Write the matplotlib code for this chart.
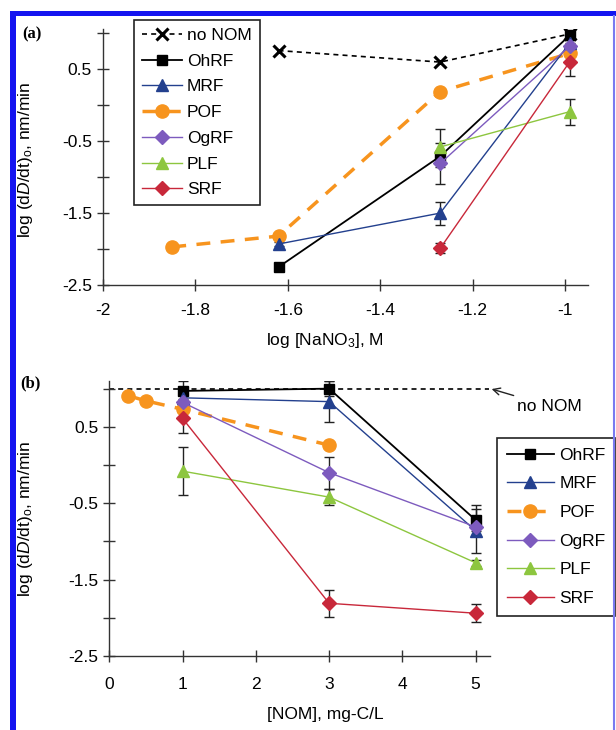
import matplotlib
matplotlib.use("Agg")
import matplotlib.pyplot as plt
from matplotlib.lines import Line2D
from matplotlib.patches import Rectangle

plt.rcParams['font.family'] = ['Liberation Sans', 'DejaVu Sans']
plt.rcParams['mathtext.fontset'] = 'custom'
plt.rcParams['mathtext.rm'] = 'Liberation Sans'
plt.rcParams['mathtext.it'] = 'Liberation Sans:italic'

# ---------------- data: panel (a) ----------------
a_nonom_x = [-1.62, -1.27, -0.99]
a_nonom_y = [0.76, 0.60, 0.99]
a_pof_x = [-1.85, -1.62, -1.27, -0.99]
a_pof_y = [-1.97, -1.82, 0.19, 0.72]
a_ohrf_x = [-1.62, -1.27, -0.99]
a_ohrf_y = [-2.25, -0.71, 0.97]
a_ohrf_e = [0.05, 0.38, 0.05]
a_mrf_x = [-1.62, -1.27, -0.99]
a_mrf_y = [-1.93, -1.50, 0.86]
a_mrf_e = [0.03, 0.16, 0.05]
a_ogrf_x = [-1.27, -0.99]
a_ogrf_y = [-0.81, 0.82]
a_ogrf_e = [0.05, 0.05]
a_plf_x = [-1.27, -0.99]
a_plf_y = [-0.58, -0.09]
a_plf_e = [0.05, 0.18]
a_srf_x = [-1.27, -0.99]
a_srf_y = [-1.99, 0.60]
a_srf_e = [0.07, 0.20]

# ---------------- data: panel (b) ----------------
b_nonom_x = [0, 5.18]
b_nonom_y = [1.0, 1.0]
b_pof_x = [0.25, 0.5, 1, 3]
b_pof_y = [0.91, 0.84, 0.73, 0.26]
b_x = [1, 3, 5]
b_ohrf_y = [0.97, 1.00, -0.72]
b_ohrf_e = [0.13, 0.10, 0.20]
b_mrf_y = [0.88, 0.83, -0.86]
b_mrf_e = [0.05, 0.27, 0.29]
b_ogrf_y = [0.82, -0.10, -0.81]
b_ogrf_e = [0.05, 0.21, 0.05]
b_plf_y = [-0.08, -0.42, -1.28]
b_plf_e = [0.31, 0.10, 0.04]
b_srf_y = [0.61, -1.81, -1.94]
b_srf_e = [0.19, 0.18, 0.12]

yticks = [-2.5, -2.0, -1.5, -1.0, -0.5, 0.0, 0.5, 1.0]
ytick_labels = ['-2.5', '', '-1.5', '', '-0.5', '', '0.5', '']
a_xticks = [-2, -1.8, -1.6, -1.4, -1.2, -1]
a_xtick_labels = ['-2', '-1.8', '-1.6', '-1.4', '-1.2', '-1']
b_xticks = [0, 1, 2, 3, 4, 5]
b_xtick_labels = ['0', '1', '2', '3', '4', '5']

C_OHRF = '#000000'
C_MRF = '#23408E'
C_POF = '#F7941E'
C_OGRF = '#7D5BBE'
C_PLF = '#8DC63F'
C_SRF = '#C8283A'

W, H = 616, 730
fig = plt.figure(figsize=(W / 100, H / 100), dpi=100)

axa = fig.add_axes([103 / W, 1 - 285 / H, 485 / W, 256 / H])
axb = fig.add_axes([109.3 / W, 1 - 656 / H, 381 / W, 275 / H])

ylabel = r'log (d$\mathit{D}$/dt)$_{\rm o}$, nm/min'
FS = 12.5
LFS = 12.5


def style(ax, xpad):
    for s in ['top', 'right']:
        ax.spines[s].set_visible(False)
    for s in ['left', 'bottom']:
        ax.spines[s].set_color('#333333')
        ax.spines[s].set_linewidth(1.0)
    ax.tick_params(direction='inout', length=8, width=1.0, color='#333333',
                   labelsize=FS)
    ax.tick_params(axis='y', pad=4)
    ax.tick_params(axis='x', pad=xpad)
    ax.set_yticks(yticks)
    ax.set_yticklabels(ytick_labels)


eb_kw = dict(fmt='none', ecolor='#222222', elinewidth=1.0, capsize=3.5, capthick=1.0, zorder=2)

# ---------------- panel (a) ----------------
style(axa, 9)
axa.plot(a_nonom_x, a_nonom_y, color='black', ls=(0, (3, 2.5)), lw=1.2, marker='x', ms=8, mew=2.2,
         label='no NOM', zorder=3)
axa.errorbar(a_ohrf_x, a_ohrf_y, yerr=a_ohrf_e, **eb_kw)
axa.errorbar(a_mrf_x, a_mrf_y, yerr=a_mrf_e, **eb_kw)
axa.errorbar(a_ogrf_x, a_ogrf_y, yerr=a_ogrf_e, **eb_kw)
axa.errorbar(a_plf_x, a_plf_y, yerr=a_plf_e, **eb_kw)
axa.errorbar(a_srf_x, a_srf_y, yerr=a_srf_e, **eb_kw)
axa.plot(a_ohrf_x, a_ohrf_y, color=C_OHRF, lw=1.3, marker='s', ms=7.5, label='OhRF', zorder=4)
axa.plot(a_mrf_x, a_mrf_y, color=C_MRF, lw=1.0, marker='^', ms=8, label='MRF', zorder=4)
axa.plot(a_pof_x, a_pof_y, color=C_POF, lw=2.5, ls=(0, (4, 3)), marker='o', ms=9.5, label='POF', zorder=3)
axa.plot(a_ogrf_x, a_ogrf_y, color=C_OGRF, lw=1.0, marker='D', ms=7, label='OgRF', zorder=4)
axa.plot(a_plf_x, a_plf_y, color=C_PLF, lw=1.0, marker='^', ms=8, label='PLF', zorder=4)
axa.plot(a_srf_x, a_srf_y, color=C_SRF, lw=1.0, marker='D', ms=7, label='SRF', zorder=4)
axa.set_xlim(-2, -0.95)
axa.set_ylim(-2.5, 1.06)
axa.set_xticks(a_xticks)
axa.set_xticklabels(a_xtick_labels)
axa.set_xlabel('log [NaNO$_3$], M', fontsize=FS)
axa.xaxis.set_label_coords(0.458, -0.18)
axa.set_ylabel(ylabel, fontsize=FS)
axa.yaxis.set_label_coords(-0.14, 0.49)
leg_a = axa.legend(loc='upper left', bbox_to_anchor=(134 / W, 1 - 20 / H),
                   bbox_transform=fig.transFigure, fontsize=LFS, frameon=True, fancybox=False,
                   edgecolor='#222222', framealpha=1, handlelength=2.3, handletextpad=0.3,
                   labelspacing=0.61, borderpad=0.45, borderaxespad=0)
leg_a.get_frame().set_linewidth(1.2)

# ---------------- panel (b) ----------------
style(axb, 11)
axb.plot(b_nonom_x, b_nonom_y, color='black', ls=(0, (3, 2.5)), lw=1.2, zorder=1)
axb.errorbar(b_x, b_ohrf_y, yerr=b_ohrf_e, **eb_kw)
axb.errorbar(b_x, b_mrf_y, yerr=b_mrf_e, **eb_kw)
axb.errorbar(b_x, b_ogrf_y, yerr=b_ogrf_e, **eb_kw)
axb.errorbar(b_x, b_plf_y, yerr=b_plf_e, **eb_kw)
axb.errorbar(b_x, b_srf_y, yerr=b_srf_e, **eb_kw)
axb.plot(b_x, b_ohrf_y, color=C_OHRF, lw=1.3, marker='s', ms=7.5, label='OhRF', zorder=4)
axb.plot(b_x, b_mrf_y, color=C_MRF, lw=1.0, marker='^', ms=8, label='MRF', zorder=4)
axb.plot(b_pof_x, b_pof_y, color=C_POF, lw=2.5, ls=(0, (4, 3)), marker='o', ms=9.5, label='POF', zorder=3)
axb.plot(b_x, b_ogrf_y, color=C_OGRF, lw=1.0, marker='D', ms=7, label='OgRF', zorder=4)
axb.plot(b_x, b_plf_y, color=C_PLF, lw=1.0, marker='^', ms=8, label='PLF', zorder=4)
axb.plot(b_x, b_srf_y, color=C_SRF, lw=1.0, marker='D', ms=7, label='SRF', zorder=4)
axb.set_xlim(0, 5.2)
axb.set_ylim(-2.5, 1.1)
axb.set_xticks(b_xticks)
axb.set_xticklabels(b_xtick_labels)
axb.set_xlabel('[NOM], mg-C/L', fontsize=FS)
axb.xaxis.set_label_coords(0.567, -0.185)
axb.set_ylabel(ylabel, fontsize=FS)
axb.yaxis.set_label_coords(-0.195, 0.5)
axb.annotate('no NOM', xy=(5.2, 1.0), xytext=(5.57, 0.77), fontsize=LFS,
             ha='left', va='center', annotation_clip=False,
             arrowprops=dict(arrowstyle='->', color='#222222', lw=1.0,
                             shrinkA=1, shrinkB=1))
leg_b = axb.legend(loc='upper left', bbox_to_anchor=(497 / W, 1 - 438 / H),
                   bbox_transform=fig.transFigure, fontsize=LFS, frameon=True, fancybox=False,
                   edgecolor='#222222', framealpha=1, handlelength=2.75, handletextpad=0.3,
                   labelspacing=0.78, borderpad=0.55, borderaxespad=0)
leg_b.get_frame().set_linewidth(1.2)

# panel labels
fig.text(22 / W, 1 - 34 / H, '(a)', fontsize=12, fontweight='bold', family='Liberation Serif',
         va='center', ha='left')
fig.text(20 / W, 1 - 383 / H, '(b)', fontsize=12, fontweight='bold', family='Liberation Serif',
         va='center', ha='left')

# blue frame
BLUE = '#1414F0'
fig.add_artist(Rectangle((10 / W, 0), 6 / W, (H - 11) / H, transform=fig.transFigure,
                         color=BLUE, lw=0, zorder=10))
fig.add_artist(Rectangle((10 / W, 1 - 16 / H), (W - 10) / W, 5 / H, transform=fig.transFigure,
                         color=BLUE, lw=0, zorder=10))
fig.add_artist(Line2D([614 / W, 614 / W], [0, 1 - 16 / H], transform=fig.transFigure,
                      color='#7A7AF0', lw=1.5, zorder=10))

fig.savefig('out.png', dpi=100)
